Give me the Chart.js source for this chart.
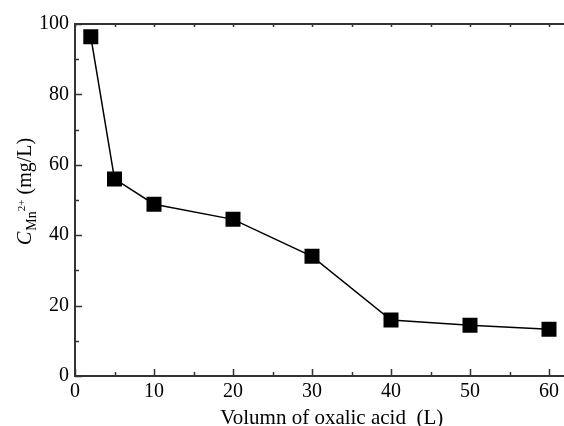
<!DOCTYPE html>
<html>
<head>
<meta charset="utf-8">
<script src="https://cdn.jsdelivr.net/npm/chart.js@4/dist/chart.umd.min.js"></script>
<style>
html, body { margin: 0; padding: 0; background: #fff; }
#wrap { width: 564px; height: 426px; overflow: hidden; position: relative; }
canvas { display: block; }
</style>
</head>
<body>
<div id="wrap"><canvas id="chart" width="600" height="440"></canvas></div>
<script>
// data
const volumes = [2, 5, 10, 20, 30, 40, 50, 60];
const concentrations = [96.4, 56.0, 48.8, 44.5, 34.0, 15.9, 14.4, 13.3];
const xTicks = [0, 10, 20, 30, 40, 50, 60];
const xMinor = [5, 15, 25, 35, 45, 55, 65];
const yTicks = [0, 20, 40, 60, 80, 100];
const yMinor = [10, 30, 50, 70, 90];

const serif = "'Liberation Serif', 'Times New Roman', serif";
const axisColor = "#333";

// tick marks drawn inward, top frame line, and the y title with sub/superscripts
const framePlugin = {
  id: "frame",
  afterDraw(chart) {
    const ctx = chart.ctx;
    const a = chart.chartArea;
    const xs = chart.scales.x, ys = chart.scales.y;
    ctx.save();
    ctx.strokeStyle = axisColor;
    ctx.lineWidth = 2;
    ctx.beginPath();
    ctx.moveTo(a.left - 1, a.top);
    ctx.lineTo(a.right, a.top);
    ctx.stroke();

    ctx.lineWidth = 1.5;
    ctx.beginPath();
    xTicks.forEach(v => {
      const px = Math.round(xs.getPixelForValue(v)) + 0.5;
      ctx.moveTo(px, a.bottom); ctx.lineTo(px, a.bottom - 7);
      ctx.moveTo(px, a.top); ctx.lineTo(px, a.top + 3);
    });
    xMinor.forEach(v => {
      const px = Math.round(xs.getPixelForValue(v)) + 0.5;
      ctx.moveTo(px, a.bottom); ctx.lineTo(px, a.bottom - 4);
      ctx.moveTo(px, a.top); ctx.lineTo(px, a.top + 3);
    });
    yTicks.forEach(v => {
      const py = Math.round(ys.getPixelForValue(v)) + 0.5;
      ctx.moveTo(a.left, py); ctx.lineTo(a.left + 7, py);
    });
    yMinor.forEach(v => {
      const py = Math.round(ys.getPixelForValue(v)) + 0.5;
      ctx.moveTo(a.left, py); ctx.lineTo(a.left + 4, py);
    });
    ctx.stroke();

    // y axis title: C_{Mn^{2+}} (mg/L)
    ctx.fillStyle = "#000";
    ctx.translate(31, 245);
    ctx.rotate(-Math.PI / 2);
    ctx.textBaseline = "alphabetic";
    ctx.textAlign = "left";
    let x = 0;
    ctx.font = "italic 20px " + serif;
    ctx.fillText("C", x, 0);
    x += ctx.measureText("C").width + 1;
    ctx.font = "14px " + serif;
    ctx.fillText("Mn", x, 5);
    x += ctx.measureText("Mn").width;
    ctx.font = "11px " + serif;
    ctx.fillText("2+", x, -6);
    x += ctx.measureText("2+").width;
    ctx.font = "20px " + serif;
    ctx.fillText(" (mg/L)", x, 0);
    ctx.restore();
  }
};

new Chart(document.getElementById("chart"), {
  type: "line",
  data: {
    datasets: [{
      data: volumes.map((v, i) => ({ x: v, y: concentrations[i] })),
      borderColor: "#000",
      borderWidth: 1.5,
      backgroundColor: "#000",
      pointStyle: "rect",
      pointRadius: 10.6,
      pointHoverRadius: 10.6,
      pointBorderWidth: 0,
      tension: 0
    }]
  },
  plugins: [framePlugin],
  options: {
    responsive: false,
    animation: false,
    events: [],
    layout: { padding: { left: 33, top: 24, right: 11.5, bottom: 11 } },
    plugins: { legend: { display: false }, tooltip: { enabled: false } },
    scales: {
      x: {
        type: "linear",
        min: 0,
        max: 65,
        afterBuildTicks: s => { s.ticks = xTicks.map(v => ({ value: v })); },
        grid: { display: false, drawTicks: false },
        border: { display: true, color: axisColor, width: 2 },
        ticks: { color: "#000", padding: 6, font: { family: serif, size: 20, lineHeight: 1 } },
        title: {
          display: true,
          text: "Volumn of oxalic acid  (L)",
          color: "#000",
          font: { family: serif, size: 21, lineHeight: 1 },
          padding: { top: 0, bottom: 0 }
        }
      },
      y: {
        min: 0,
        max: 100,
        afterBuildTicks: s => { s.ticks = yTicks.map(v => ({ value: v })); },
        grid: { display: false, drawTicks: false },
        border: { display: true, color: axisColor, width: 2 },
        ticks: { color: "#000", padding: 6, font: { family: serif, size: 20 } }
      }
    }
  }
});
</script>
</body>
</html>
